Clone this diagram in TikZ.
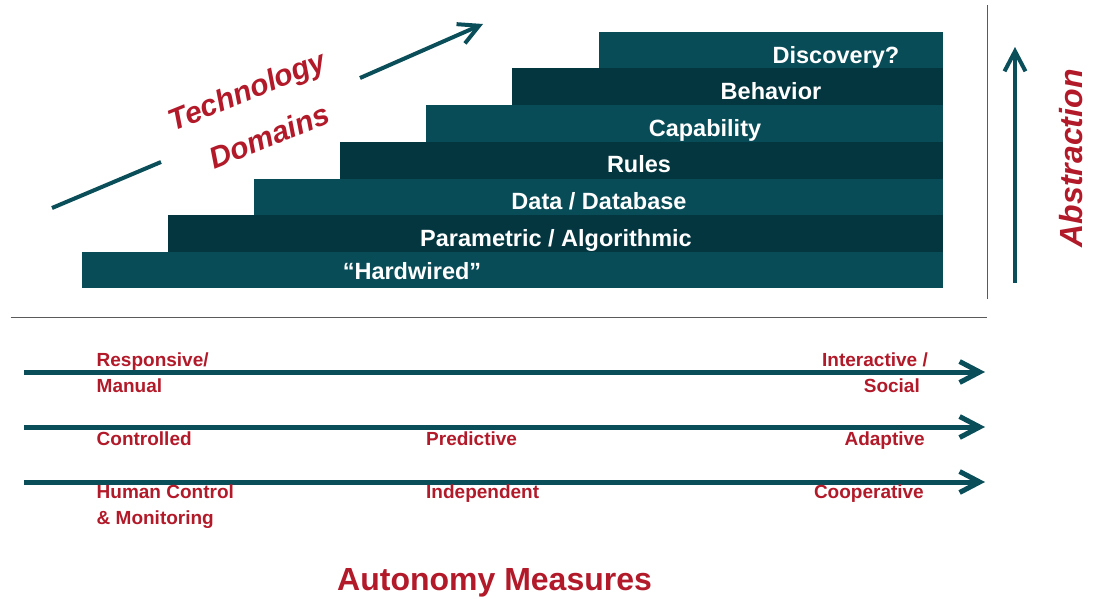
\documentclass[tikz,border=0pt]{standalone}
\usepackage{fontspec}
\setmainfont{Liberation Sans}
\usetikzlibrary{arrows.meta}
\definecolor{tealA}{RGB}{7,76,87}
\definecolor{tealB}{RGB}{4,54,63}
\definecolor{arrowteal}{RGB}{10,78,90}
\definecolor{redtxt}{RGB}{178,26,42}
\definecolor{rulegray}{RGB}{90,90,90}
\begin{document}
\begin{tikzpicture}[x=1pt,y=-1pt,
  bartext/.style={text=white,font=\fontsize{23.5}{28}\selectfont\bfseries,anchor=base,inner sep=0pt},
  redlab/.style={text=redtxt,font=\fontsize{19}{22}\selectfont\bfseries,inner sep=0pt},
  bigred/.style={text=redtxt,font=\fontsize{30}{34}\selectfont\bfseries\itshape,inner sep=0pt},
  titlered/.style={text=redtxt,font=\fontsize{32}{36}\selectfont\bfseries,inner sep=0pt},
  tealarrow/.style={draw=arrowteal,line width=#1,-{Straight Barb[length=20pt,width=21pt]}},
  tealline/.style={draw=arrowteal,line width=#1},
  thinrule/.style={draw=rulegray,line width=1pt}
]
\useasboundingbox (0,0) rectangle (1101,598);

% steps
\fill[tealA] (599,32.3) rectangle (943,68.8);
\fill[tealB] (512,68.3) rectangle (943,105.7);
\fill[tealA] (426,105.2) rectangle (943,142);
\fill[tealB] (340,141.7) rectangle (943,179.3);
\fill[tealA] (254,178.8) rectangle (943,215.3);
\fill[tealB] (168,214.8) rectangle (943,252.6);
\fill[tealA] (81.5,252.1) rectangle (943,288.3);

\node[bartext] (disc) at (836,63.5) {Discovery?};
\node[bartext] (beh)  at (771,99.5) {Behavior};
\node[bartext] (cap)  at (705,136) {Capability};
\node[bartext] (rul)  at (639,172.7) {Rules};
\node[bartext] (dat)  at (599,209.7) {Data / Database};
\node[bartext] (par)  at (556,246) {Parametric / Algorithmic};
\node[bartext] (hard) at (412,279.5) {“Hardwired”};

% technology domains arrow and label
\coordinate (ta1) at (52,208);
\coordinate (ta2) at (161,162);
\coordinate (ta3) at (360,78);
\coordinate (ta4) at (483,24);
\draw[tealline=4pt] (ta1) -- (ta2);
\draw[tealarrow=4pt] (ta3) -- (ta4);
\node[bigred,rotate=22] (tech) at (248,93) {Technology};
\node[bigred,rotate=22] (dom) at (269,136) {Domains};

% abstraction
\draw[thinrule] (987,5) coordinate (vr1) -- (987,299) coordinate (vr2);
\coordinate (ab1) at (1015,283);
\coordinate (ab2) at (1015,47);
\draw[tealarrow=4pt] (ab1) -- (ab2);
\node[bigred,font=\fontsize{32}{36}\selectfont\bfseries\itshape,rotate=90] (abs) at (1071,158.3) {Abstraction};

% separator
\draw[thinrule] (10.5,317) coordinate (hr1) -- (987,317) coordinate (hr2);

% autonomy arrows
\coordinate (r1s) at (24,372);  \coordinate (r1e) at (985,372);
\coordinate (r2s) at (24,427);  \coordinate (r2e) at (985,427);
\coordinate (r3s) at (24,482);  \coordinate (r3e) at (985,482);
\draw[tealarrow=5pt] (r1s) -- (r1e);
\draw[tealarrow=5pt] (r2s) -- (r2e);
\draw[tealarrow=5pt] (r3s) -- (r3e);

\node[redlab,anchor=base west] (resp) at (96.5,366) {Responsive/};
\node[redlab,anchor=base west] (man)  at (96.5,392) {Manual};
\node[redlab,anchor=base east] (inter) at (928,366) {Interactive /};
\node[redlab,anchor=base east] (soc)  at (920,392) {Social};

\node[redlab,anchor=base west] (ctrl) at (96.5,445) {Controlled};
\node[redlab,anchor=base west] (pred) at (426,445) {Predictive};
\node[redlab,anchor=base east] (adap) at (925,445) {Adaptive};

\node[redlab,anchor=base west] (hum) at (96.5,498) {Human Control};
\node[redlab,anchor=base west] (mon) at (96.5,524) {\& Monitoring};
\node[redlab,anchor=base west] (ind) at (426,498) {Independent};
\node[redlab,anchor=base east] (coop) at (924,498) {Cooperative};

\node[titlered,anchor=base west] (auto) at (337,590) {Autonomy Measures};
\end{tikzpicture}
\end{document}
